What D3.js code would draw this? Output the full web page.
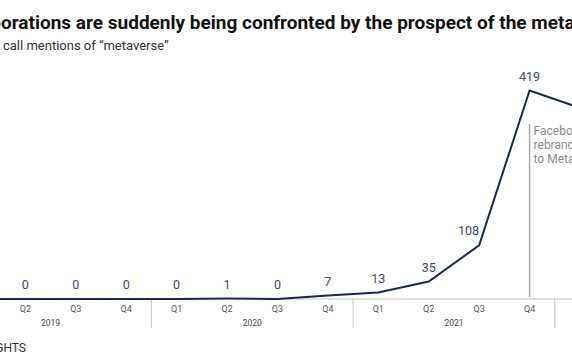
<!DOCTYPE html>
<html>
<head>
<meta charset="utf-8">
<script src="https://cdn.jsdelivr.net/npm/d3@7"></script>
<style>
  body { margin: 0; background: #fff; overflow: hidden; }
  svg { display: block; font-family: Roboto, "Noto Sans", sans-serif; }
</style>
</head>
<body>
<svg width="572" height="364"></svg>
<script>
// earnings call mentions of "metaverse", by quarter
var quarters = ["Q1", "Q2", "Q3", "Q4", "Q1", "Q2", "Q3", "Q4", "Q1", "Q2", "Q3", "Q4", "Q1"];
var years = ["2019", "2019", "2019", "2019", "2020", "2020", "2020", "2020", "2021", "2021", "2021", "2021", "2022"];
var mentions = [0, 0, 0, 0, 0, 1, 0, 7, 13, 35, 108, 419, 384];
var yearLabels = ["2019", "2020", "2021", "2022"];

var svg = d3.select("svg"),
    width = +svg.attr("width"),
    height = +svg.attr("height");

var navy = "#1c2653";

var data = mentions.map(function(v, i) {
  return { key: years[i] + " " + quarters[i], q: quarters[i], year: years[i], value: v };
});

// the chart is wider than the window, so the scale runs off both edges
var x = d3.scalePoint()
    .domain(data.map(function(d) { return d.key; }))
    .range([-25.1, 580]);

var y = d3.scaleLinear()
    .domain([0, 419])
    .range([299, 90.5]);

// title, subtitle
var title = svg.append("text")
    .attr("y", 29)
    .attr("font-size", 19)
    .attr("font-weight", "bold")
    .attr("fill", "#111")
    .text("Corporations are suddenly being confronted by the prospect of the metaverse");
title.attr("x", 1 - title.node().getSubStringLength(0, 4));

var sub = svg.append("text")
    .attr("y", 49.5)
    .attr("font-size", 13)
    .attr("fill", "#333")
    .text("Earnings call mentions of \u201cmetaverse\u201d");
sub.attr("x", 3 - sub.node().getSubStringLength(0, 9));

// base line
svg.append("line")
    .attr("x1", -60).attr("x2", width + 60)
    .attr("y1", y(0)).attr("y2", y(0))
    .attr("stroke", "#d6d6d6")
    .attr("stroke-width", 1.5);

// x axis: quarter ticks
svg.append("g")
  .selectAll("text")
  .data(data)
  .enter().append("text")
    .attr("x", function(d) { return x(d.key); })
    .attr("y", 312)
    .attr("text-anchor", "middle")
    .attr("font-size", 9)
    .attr("fill", "#555")
    .text(function(d) { return d.q; });

// year groups and separators
var step = x.step();
yearLabels.forEach(function(yr) {
  var ks = data.filter(function(d) { return d.year === yr; }).map(function(d) { return x(d.key); });
  var lo = d3.min(ks), hi = yr === "2022" ? lo + 3 * step : d3.max(ks);
  svg.append("text")
      .attr("x", (lo + hi) / 2)
      .attr("y", 326)
      .attr("text-anchor", "middle")
      .attr("font-size", 8.5)
      .attr("fill", "#444")
      .text(yr);
  svg.append("line")
      .attr("x1", lo - step / 2).attr("x2", lo - step / 2)
      .attr("y1", y(0)).attr("y2", 328)
      .attr("stroke", "#c4c4c4")
      .attr("stroke-width", 1);
});

// annotation
var fb = data[11];
svg.append("line")
    .attr("x1", x(fb.key)).attr("x2", x(fb.key))
    .attr("y1", 124).attr("y2", 297)
    .attr("stroke", "#a8a8a8")
    .attr("stroke-width", 1.5);

svg.append("text")
    .attr("x", x(fb.key) + 4)
    .attr("y", 135)
    .attr("font-size", 12)
    .attr("fill", "#8a8a8a")
  .selectAll("tspan")
  .data(["Facebook", "rebrands", "to Meta"])
  .enter().append("tspan")
    .attr("x", x(fb.key) + 4)
    .attr("dy", function(d, i) { return i ? 14 : 0; })
    .text(function(d) { return d; });

// line
var line = d3.line()
    .x(function(d) { return x(d.key); })
    .y(function(d) { return y(d.value); });

svg.append("path")
    .datum(data)
    .attr("fill", "none")
    .attr("stroke", navy)
    .attr("stroke-width", 2)
    .attr("stroke-linejoin", "miter")
    .attr("d", line);

// value labels (only for points inside the window)
var labels = svg.append("g");
data.forEach(function(d, i) {
  var px = x(d.key), py = y(d.value);
  if (px > width) return;
  if (i === 10) {
    // steep part, label sits to the left with a small leader
    labels.append("line")
        .attr("x1", px - 8).attr("x2", px - 2)
        .attr("y1", py - 6).attr("y2", py - 1.5)
        .attr("stroke", "#ccc")
        .attr("stroke-width", 1);
    labels.append("text")
        .attr("x", px)
        .attr("y", py - 10.5)
        .attr("text-anchor", "end")
        .attr("font-size", 12.5)
        .attr("fill", "#3e4a6e")
        .text(d.value);
  } else {
    labels.append("text")
        .attr("x", px)
        .attr("y", py - 10)
        .attr("text-anchor", "middle")
        .attr("font-size", 12.5)
        .attr("fill", "#3e4a6e")
        .text(d.value);
  }
});

// source
svg.append("text")
    .attr("x", 26)
    .attr("y", 352)
    .attr("text-anchor", "end")
    .attr("font-size", 12)
    .attr("fill", "#333")
    .text("CB INSIGHTS");
</script>
</body>
</html>
